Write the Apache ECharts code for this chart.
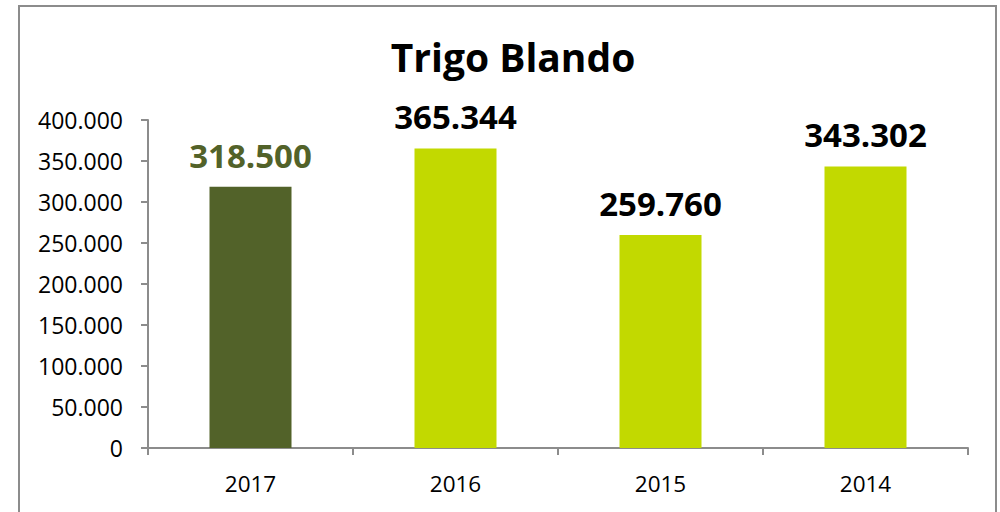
<!DOCTYPE html>
<html>
<head>
<meta charset="utf-8">
<script src="https://cdn.jsdelivr.net/npm/echarts@6/dist/echarts.min.js"></script>
<style>
  html, body { margin: 0; padding: 0; background: #fff; }
  #chart { width: 1000px; height: 512px; }
</style>
</head>
<body>
<div id="chart"></div>
<script>
const years = ['2017', '2016', '2015', '2014'];
const tonnes = [318500, 365344, 259760, 343302];
const barColors = ['#526229', '#c2d900', '#c2d900', '#c2d900'];
const labelColors = ['#526229', '#000', '#000', '#000'];

function dots(v) {
  return String(Math.round(v)).replace(/\B(?=(\d{3})+(?!\d))/g, '.');
}

const font = 'Open Sans';

const chart = echarts.init(document.getElementById('chart'), null, { renderer: 'svg' });

chart.setOption({
  animation: false,
  textStyle: { fontFamily: font },
  title: {
    text: 'Trigo Blando',
    left: 508,
    top: 32,
    textAlign: 'center',
    textStyle: { fontSize: 39, fontWeight: 'bold', color: '#000', fontFamily: font }
  },
  graphic: [{
    type: 'rect',
    shape: { x: 19, y: 6, width: 977, height: 530 },
    style: { fill: 'none', stroke: '#8c8c8c', lineWidth: 2 },
    silent: true
  }],
  grid: { left: 148, right: 32, top: 120, bottom: 64 },
  xAxis: {
    type: 'category',
    data: years,
    axisLine: { lineStyle: { color: '#8c8c8c', width: 2 } },
    axisTick: { show: true, length: 7, lineStyle: { color: '#8c8c8c', width: 2 } },
    axisLabel: { color: '#000', fontSize: 22.5, margin: 24, fontFamily: font }
  },
  yAxis: {
    type: 'value',
    min: 0,
    max: 400000,
    interval: 50000,
    axisLine: { show: true, lineStyle: { color: '#8c8c8c', width: 2 } },
    axisTick: { show: true, length: 7, lineStyle: { color: '#8c8c8c', width: 2 } },
    splitLine: { show: false },
    axisLabel: { color: '#000', fontSize: 23, margin: 25, fontFamily: font, formatter: dots }
  },
  series: [{
    type: 'bar',
    barWidth: '40%',
    data: tonnes.map((v, i) => ({
      value: v,
      itemStyle: { color: barColors[i] },
      label: { color: labelColors[i] }
    })),
    label: {
      show: true,
      position: 'top',
      distance: 15,
      fontSize: 33,
      fontWeight: 'bold',
      fontFamily: font,
      formatter: p => dots(p.value)
    }
  }]
});
</script>
</body>
</html>
